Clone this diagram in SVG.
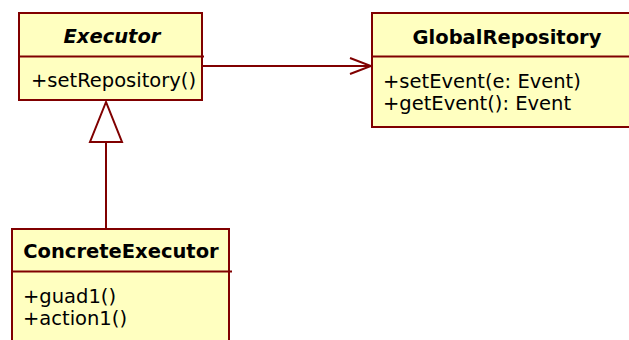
<svg xmlns="http://www.w3.org/2000/svg" width="629" height="340" viewBox="0 0 629 340">
  <style>
    .box { fill: #FFFFC0; stroke: #800000; stroke-width: 2; }
    .sep { stroke: #800000; stroke-width: 2; fill: none; }
    .edge { stroke: #800000; stroke-width: 2; fill: none; }
    .name { font-family: "DejaVu Sans", sans-serif; font-weight: bold; font-size: 19.5px; fill: #000; text-anchor: middle; }
    .op { font-family: "DejaVu Sans", sans-serif; font-size: 19.5px; fill: #000; }
  </style>
  <defs>
    <marker id="open" markerWidth="24" markerHeight="20" refX="22" refY="9" orient="auto" markerUnits="userSpaceOnUse">
      <path d="M1,1 L22,9 L1,17" fill="none" stroke="#800000" stroke-width="2"/>
    </marker>
  </defs>

  <g id="connectors">
    <!-- association Executor -> GlobalRepository -->
    <line class="edge" x1="203" y1="66" x2="371" y2="66" marker-end="url(#open)"/>
    <!-- generalization ConcreteExecutor -> Executor -->
    <line class="edge" x1="106" y1="229" x2="106" y2="142"/>
    <polygon points="106,102 90,142 122,142" fill="#fff" stroke="#800000" stroke-width="2"/>
  </g>

  <g id="Executor">
    <rect class="box" x="19" y="13" width="183" height="87"/>
    <line class="sep" x1="19" y1="56.5" x2="204" y2="56.5"/>
    <text class="name" x="112" y="43" font-style="italic">Executor</text>
    <text class="op" x="31" y="87">+setRepository()</text>
  </g>

  <g id="GlobalRepository">
    <rect class="box" x="372" y="13" width="270" height="114"/>
    <line class="sep" x1="372" y1="56.5" x2="642" y2="56.5"/>
    <text class="name" x="507" y="44">GlobalRepository</text>
    <text class="op" x="383" y="88">+setEvent(e: Event)</text>
    <text class="op" x="383" y="110">+getEvent(): Event</text>
  </g>

  <g id="ConcreteExecutor">
    <rect class="box" x="12" y="229" width="217" height="130"/>
    <line class="sep" x1="12" y1="271.5" x2="232" y2="271.5"/>
    <text class="name" x="121" y="258">ConcreteExecutor</text>
    <text class="op" x="23" y="303">+guad1()</text>
    <text class="op" x="23" y="325">+action1()</text>
  </g>
</svg>
